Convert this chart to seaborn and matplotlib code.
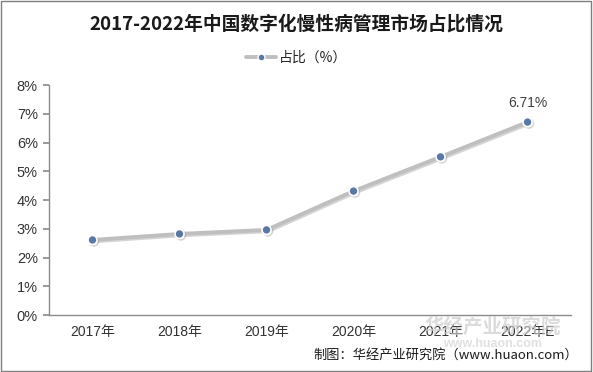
import matplotlib
matplotlib.use('Agg')
import matplotlib.pyplot as plt
import matplotlib.patheffects as pe
from matplotlib.ticker import FixedLocator, PercentFormatter
from matplotlib.lines import Line2D
import seaborn as sns
import pandas as pd

# --- data ---
years = ['2017年', '2018年', '2019年', '2020年', '2021年', '2022年E']
share = [2.61, 2.82, 2.96, 4.31, 5.50, 6.71]
last_label = '6.71%'

sns.set_theme(style='white')
plt.rcParams['font.family'] = ['Liberation Sans', 'Noto Sans CJK SC', 'DejaVu Sans']
cjk = ['Noto Sans CJK SC', 'DejaVu Sans']

df = pd.DataFrame({'year': years, 'share': share})

fig = plt.figure(figsize=(5.93, 3.72), dpi=100)
ax = fig.add_axes([0.0826, 0.1532, 0.8804, 0.6183])

line_color = '#BFBFBF'
dot_color = '#5A78A6'
shadow = [pe.SimpleLineShadow(offset=(1, -1), shadow_color='#777777', alpha=0.3),
          pe.Normal()]

sns.lineplot(data=df, x='year', y='share', sort=False, ax=ax, color=line_color,
             linewidth=2.8, marker='o', markersize=6.5, markerfacecolor=dot_color,
             markeredgecolor='white', markeredgewidth=1.2, path_effects=shadow)

ax.set_xlim(-0.5, len(years) - 0.5)
ax.set_ylim(0, 8)
ax.set_yticks(range(0, 9))
ax.yaxis.set_major_formatter(PercentFormatter(decimals=0))
ax.set_xlabel('')
ax.set_ylabel('')

# category ticks: labels at centres, tick marks at band edges
ax.tick_params(axis='x', which='major', length=0, pad=7, labelsize=10, colors='#333333')
ax.xaxis.set_minor_locator(FixedLocator([i - 0.5 for i in range(len(years) + 1)]))
ax.tick_params(axis='x', which='minor', length=4, color='#8c8c8c', direction='out')
ax.tick_params(axis='y', length=4, color='#8c8c8c', direction='out', left=True,
               labelsize=10.5, labelcolor='#333333', pad=4)

for s in ['top', 'right']:
    ax.spines[s].set_visible(False)
for s in ['left', 'bottom']:
    ax.spines[s].set_color('#8c8c8c')
    ax.spines[s].set_linewidth(1)

ax.annotate(last_label, (len(years) - 1, share[-1]), xytext=(0, 9),
            textcoords='offset points', ha='center', va='bottom',
            fontsize=10, color='#404040')

# title and legend
fig.text(0.5, 0.935, '2017-2022年中国数字化慢性病管理市场占比情况', ha='center', va='center',
         fontsize=13.5, fontweight='bold', color='#1a1a1a', family=cjk)
handle = Line2D([], [], color=line_color, linewidth=2.8, marker='o', markersize=5,
                markerfacecolor=dot_color, markeredgecolor='white')
fig.legend([handle], ['占比（%）'], loc='center', bbox_to_anchor=(0.5, 0.845),
           frameon=False, prop={'family': cjk, 'size': 10},
           handlelength=2.2, handletextpad=0.2)

# watermark and source note
fig.text(0.83, 0.12, '华经产业研究院', ha='center', va='center', fontsize=14,
         fontweight='bold', color='#cccccc', alpha=0.7, family=cjk)
fig.text(0.83, 0.075, 'www.huaon.com', ha='center', va='center', fontsize=9,
         fontweight='bold', color='#d4d4d4', alpha=0.7)
fig.text(0.975, 0.045, '制图：华经产业研究院（www.huaon.com）', ha='right', va='center',
         fontsize=9.5, color='#1a1a1a', family=cjk)

# thin grey frame around the picture
fig.patches.append(plt.Rectangle((0.002, 0.003), 0.995, 0.994, transform=fig.transFigure,
                                 fill=False, edgecolor='#7f7f7f', linewidth=1))

fig.savefig('out.png', dpi=100)
